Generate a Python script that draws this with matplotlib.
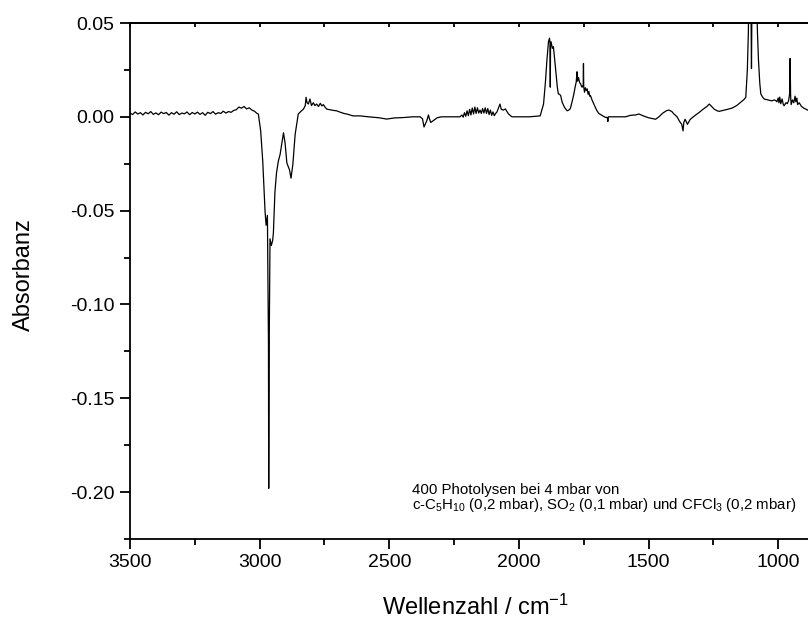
import matplotlib
matplotlib.use("Agg")
import matplotlib.pyplot as plt
from matplotlib.ticker import MultipleLocator, NullFormatter

plt.rcParams['font.family'] = ['Liberation Sans', 'DejaVu Sans']
plt.rcParams['mathtext.fontset'] = 'custom'
plt.rcParams['mathtext.rm'] = 'Liberation Sans'
plt.rcParams['mathtext.it'] = 'Liberation Sans'
plt.rcParams['mathtext.default'] = 'regular'

# ---- data ----
wn_baseline = [3500, 3490, 3480, 3470, 3460, 3450, 3440, 3430, 3420, 3410, 3400, 3390, 3380, 3370,
               3360, 3350, 3340, 3330, 3320, 3310, 3300, 3290, 3280, 3270, 3260, 3250, 3240, 3230,
               3220, 3210, 3200, 3190, 3180, 3170, 3160, 3150, 3140, 3130, 3120, 3110, 3100, 3090,
               3080, 3070, 3060, 3050, 3040, 3030, 3020, 3010]
ab_baseline = [0.0020, 0.0012, 0.0026, 0.0015, 0.0022, 0.0010, 0.0024, 0.0016, 0.0028, 0.0013,
               0.0021, 0.0011, 0.0025, 0.0017, 0.0023, 0.0009, 0.0022, 0.0014, 0.0027, 0.0012,
               0.0020, 0.0016, 0.0026, 0.0011, 0.0023, 0.0015, 0.0025, 0.0013, 0.0022, 0.0008,
               0.0024, 0.0017, 0.0028, 0.0014, 0.0022, 0.0018, 0.0030, 0.0020, 0.0028, 0.0024,
               0.0034, 0.0038, 0.0052, 0.0046, 0.0055, 0.0042, 0.0048, 0.0036, 0.0030, 0.0018]

wn_ch = [3005, 2996, 2988, 2979, 2975, 2970, 2966, 2965, 2963, 2960, 2955, 2950, 2947, 2941, 2935,
         2928, 2921, 2915, 2908, 2902, 2895, 2885, 2879, 2872, 2863, 2851, 2840, 2831, 2824, 2821,
         2817, 2812, 2806, 2800, 2793, 2787, 2780, 2773, 2766, 2760, 2754, 2747, 2741, 2730, 2715,
         2703, 2690, 2675, 2664, 2640, 2613, 2580, 2540, 2510, 2480, 2446, 2410, 2381, 2372, 2366,
         2360, 2355, 2349, 2344, 2340, 2330, 2315, 2300, 2260, 2227]
ab_ch = [0.0015, -0.0075, -0.0237, -0.0507, -0.0578, -0.0525, -0.1200, -0.1980, -0.1200, -0.0650,
         -0.0686, -0.0660, -0.0620, -0.0400, -0.0300, -0.0237, -0.0200, -0.0147, -0.0085, -0.0138,
         -0.0246, -0.0282, -0.0327, -0.0255, -0.0093, 0.0015, 0.0030, 0.0041, 0.0060, 0.0104,
         0.0075, 0.0068, 0.0095, 0.0060, 0.0075, 0.0060, 0.0068, 0.0055, 0.0072, 0.0058,
         0.0065, 0.0050, 0.0041, 0.0038, 0.0034, 0.0032, 0.0025, 0.0018, 0.0015, 0.0005,
         0.0005, 0.0000, -0.0005, -0.0012, -0.0006, -0.0004, 0.0000, 0.0000, -0.0010, -0.0054,
         -0.0035, -0.0020, 0.0010, -0.0015, -0.0030, -0.0020, -0.0005, 0.0000, 0.0000, 0.0000]

wn_co = [2220, 2215, 2210, 2205, 2200, 2195, 2190, 2185, 2180, 2175, 2170, 2165, 2160, 2155, 2150,
         2145, 2140, 2135, 2130, 2125, 2120, 2115, 2110, 2105, 2100, 2095, 2090, 2085, 2078, 2073,
         2068, 2060, 2052, 2047, 2040, 2027, 2000, 1960]
ab_co = [0.0010, -0.0002, 0.0022, 0.0003, 0.0032, 0.0006, 0.0040, 0.0010, 0.0047, 0.0015,
         0.0052, 0.0018, 0.0048, 0.0020, 0.0036, 0.0018, 0.0044, 0.0020, 0.0048, 0.0018,
         0.0044, 0.0012, 0.0036, 0.0008, 0.0026, 0.0006, 0.0018, 0.0025, 0.0050, 0.0068,
         0.0040, 0.0036, 0.0042, 0.0030, 0.0015, 0.0000, 0.0000, 0.0000]

wn_mid = [1918, 1905, 1898, 1892, 1886, 1882, 1880, 1879, 1878, 1876, 1871, 1867, 1863, 1858, 1852,
          1848, 1843, 1839, 1833, 1824, 1814, 1805, 1801, 1795, 1788, 1783, 1779, 1776, 1774, 1770,
          1768, 1765, 1762, 1758, 1756, 1752, 1751, 1750, 1747, 1744, 1740, 1737, 1733, 1730, 1727,
          1724, 1718, 1711, 1700, 1692, 1680, 1668, 1659, 1657, 1655, 1640, 1620, 1589, 1570, 1550,
          1537, 1520, 1500, 1473, 1460, 1445, 1430, 1422, 1410, 1402, 1390, 1380, 1372, 1367, 1364,
          1359, 1355, 1350, 1340, 1331, 1318, 1305, 1290, 1275, 1266, 1260, 1247, 1235, 1228, 1210,
          1195, 1177, 1160, 1145, 1132]
ab_mid = [0.0005, 0.0068, 0.0180, 0.0302, 0.0400, 0.0419, 0.0390, 0.0158, 0.0380, 0.0400,
          0.0365, 0.0374, 0.0320, 0.0248, 0.0160, 0.0122, 0.0120, 0.0113, 0.0077, 0.0050,
          0.0032, 0.0038, 0.0047, 0.0080, 0.0122, 0.0160, 0.0185, 0.0240, 0.0190, 0.0210,
          0.0194, 0.0180, 0.0176, 0.0160, 0.0158, 0.0170, 0.0284, 0.0160, 0.0131, 0.0155,
          0.0140, 0.0149, 0.0120, 0.0135, 0.0110, 0.0113, 0.0090, 0.0068, 0.0035, 0.0018,
          0.0008, -0.0002, -0.0004, -0.0025, 0.0000, 0.0000, 0.0000, 0.0000, 0.0008, 0.0010,
          0.0015, 0.0005, -0.0005, -0.0013, 0.0000, 0.0020, 0.0033, 0.0036, 0.0028, 0.0015,
          0.0000, -0.0025, -0.0040, -0.0075, -0.0030, -0.0013, -0.0025, -0.0040, -0.0015, -0.0004,
          0.0010, 0.0023, 0.0040, 0.0055, 0.0068, 0.0060, 0.0041, 0.0032, 0.0029, 0.0035,
          0.0040, 0.0047, 0.0060, 0.0077, 0.0092]

wn_cf = [1125, 1119, 1115, 1112, 1108, 1105, 1103, 1101, 1097, 1090, 1084, 1080, 1076, 1071, 1067,
         1060, 1054, 1040, 1025, 1015, 1009, 1005, 1000, 997, 994, 990, 985, 980, 977, 970, 965,
         960, 956, 954, 952, 950, 945, 940, 935, 932, 928, 925, 919, 910, 900, 893, 885]
ab_cf = [0.0104, 0.0248, 0.0450, 0.0800, 0.0700, 0.0600, 0.0257, 0.0650, 0.0750, 0.0850,
         0.0700, 0.0450, 0.0302, 0.0180, 0.0122, 0.0105, 0.0095, 0.0090, 0.0085, 0.0090,
         0.0086, 0.0080, 0.0100, 0.0075, 0.0105, 0.0070, 0.0095, 0.0065, 0.0059, 0.0075,
         0.0070, 0.0085, 0.0120, 0.0311, 0.0110, 0.0065, 0.0090, 0.0075, 0.0110, 0.0080,
         0.0100, 0.0065, 0.0075, 0.0055, 0.0045, 0.0041, 0.0035]

wavenumber = wn_baseline + wn_ch + wn_co + wn_mid + wn_cf
absorbance = ab_baseline + ab_ch + ab_co + ab_mid + ab_cf

x_ticks = [3500, 3000, 2500, 2000, 1500, 1000]
y_ticks = [-0.20, -0.15, -0.10, -0.05, 0.00, 0.05]

# ---- figure ----
W, H = 808, 623
fig = plt.figure(figsize=(W / 100, H / 100), dpi=100)
left, right, top, bottom = 130, 808, 23, 539
ax = fig.add_axes([left / W, 1 - bottom / H, (right - left) / W, (bottom - top) / H])

ax.plot(wavenumber, absorbance, color='black', lw=0.9)

ax.set_xlim(3500, 885)
ax.set_ylim(-0.225, 0.05)
ax.set_xticks(x_ticks)
ax.set_yticks(y_ticks)
ax.xaxis.set_minor_locator(MultipleLocator(250))
ax.yaxis.set_minor_locator(MultipleLocator(0.025))
ax.set_yticklabels([f"{v:.2f}" for v in y_ticks])

for s in ['left', 'bottom', 'top']:
    ax.spines[s].set_linewidth(1.3)
ax.spines['right'].set_visible(False)

ax.tick_params(axis='both', which='major', direction='out', length=7, width=1.3,
               labelsize=14, pad=4)
ax.tick_params(axis='both', which='minor', direction='out', length=4, width=1.3)
ax.tick_params(axis='x', which='both', top=False)

# top ticks: short, pointing inward, no labels
sec = ax.secondary_xaxis('top')
sec.set_xticks(x_ticks)
sec.xaxis.set_minor_locator(MultipleLocator(250))
sec.xaxis.set_major_formatter(NullFormatter())
sec.xaxis.set_minor_formatter(NullFormatter())
sec.tick_params(which='both', direction='in', length=3, width=1.3)
sec.spines['top'].set_linewidth(1.3)

fig.text(24 / W, 1 - 275 / H, 'Absorbanz', rotation=90, ha='center', va='center', fontsize=17)
fig.text(475 / W, 1 - 615 / H, 'Wellenzahl / cm$^{-1}$', ha='center', va='baseline', fontsize=17)

fig.text(412 / W, 1 - 494 / H, '400 Photolysen bei 4 mbar von', ha='left', va='baseline', fontsize=10.8)
fig.text(412 / W, 1 - 509 / H,
         'c-C$_5$H$_{10}$ (0,2 mbar), SO$_2$ (0,1 mbar) und CFCl$_3$ (0,2 mbar)',
         ha='left', va='baseline', fontsize=10.8)

fig.savefig('out.png', dpi=100)
